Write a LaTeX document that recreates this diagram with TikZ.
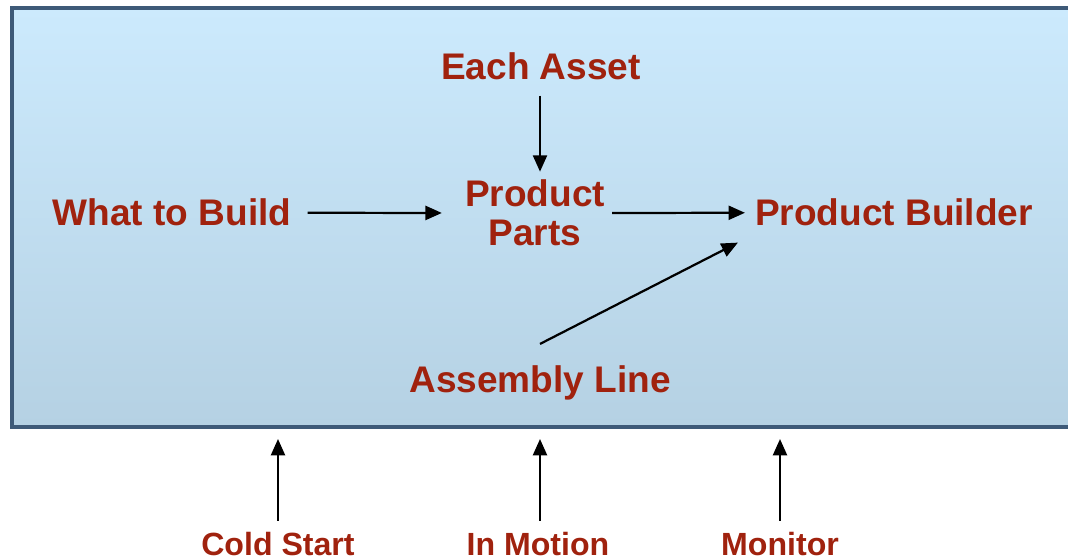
\documentclass[tikz,border=0pt]{standalone}
\usepackage{fontspec}
\setmainfont{Liberation Sans}
\usetikzlibrary{arrows.meta}
\definecolor{wordred}{HTML}{A0220E}
\definecolor{paneltop}{HTML}{CCEAFD}
\definecolor{panelbottom}{HTML}{B5D1E3}
\definecolor{panelrim}{HTML}{3E5A78}
\tikzset{
    word/.style={inner sep=0pt, text=wordred, align=center,
        font=\fontsize{31.6}{33.3}\selectfont\bfseries},
    smallword/.style={word, font=\fontsize{27.4}{30}\selectfont\bfseries},
    flow/.style={line width=1.9pt, -{Triangle[length=14pt,width=12pt]}}
}
\begin{document}
\begin{tikzpicture}[x=0.03cm, y=0.03cm]
        \useasboundingbox (0,0) rectangle (1068,558);
        \clip (0,0) rectangle (1068,558);

        % panel
        \shade[top color=paneltop, bottom color=panelbottom] (12,131) rectangle (1090,550);
        \draw[panelrim, line width=2.6pt] (12,131) rectangle (1090,550);

        \node[word, anchor=base] (each) at (541,478) {Each Asset};
        \node[word] (parts) at (535,345) {Product\\Parts};
        \node[word, anchor=base] (build) at (172,332) {What to Build};
        \node[word, anchor=base] (builder) at (894,332) {Product Builder};
        \node[word, anchor=base] (line) at (540,165) {Assembly Line};

        \node[smallword, anchor=base] (cold) at (278,3) {Cold Start};
        \node[smallword, anchor=base] (motion) at (538,3) {In Motion};
        \node[smallword, anchor=base] (monitor) at (780,3) {Monitor};

        \coordinate (coldIn) at (278,119);
        \coordinate (motionIn) at (540,119);
        \coordinate (monitorIn) at (780,119);

        \draw[flow, shorten <=0.45cm, shorten >=0.24cm] ([xshift=-0.03cm]each.south) -- ([xshift=-0.03cm]each.south |- parts.north);
        \draw[flow, shorten <=0.48cm, shorten >=0.69cm] (build.east) -- (parts.west);
        \draw[flow, shorten <=0.21cm, shorten >=0.3cm] (parts.east) -- (builder.west);
        \draw[flow] ([yshift=0.66cm]line.north) -- ([xshift=-0.51cm, yshift=-0.48cm]builder.south west);

        \draw[flow, shorten <=0.33cm] (cold.north) -- (coldIn);
        \draw[flow, shorten <=0.33cm] ([xshift=0.06cm]motion.north) -- (motionIn);
        \draw[flow, shorten <=0.33cm] (monitor.north) -- (monitorIn);
\end{tikzpicture}
\end{document}
